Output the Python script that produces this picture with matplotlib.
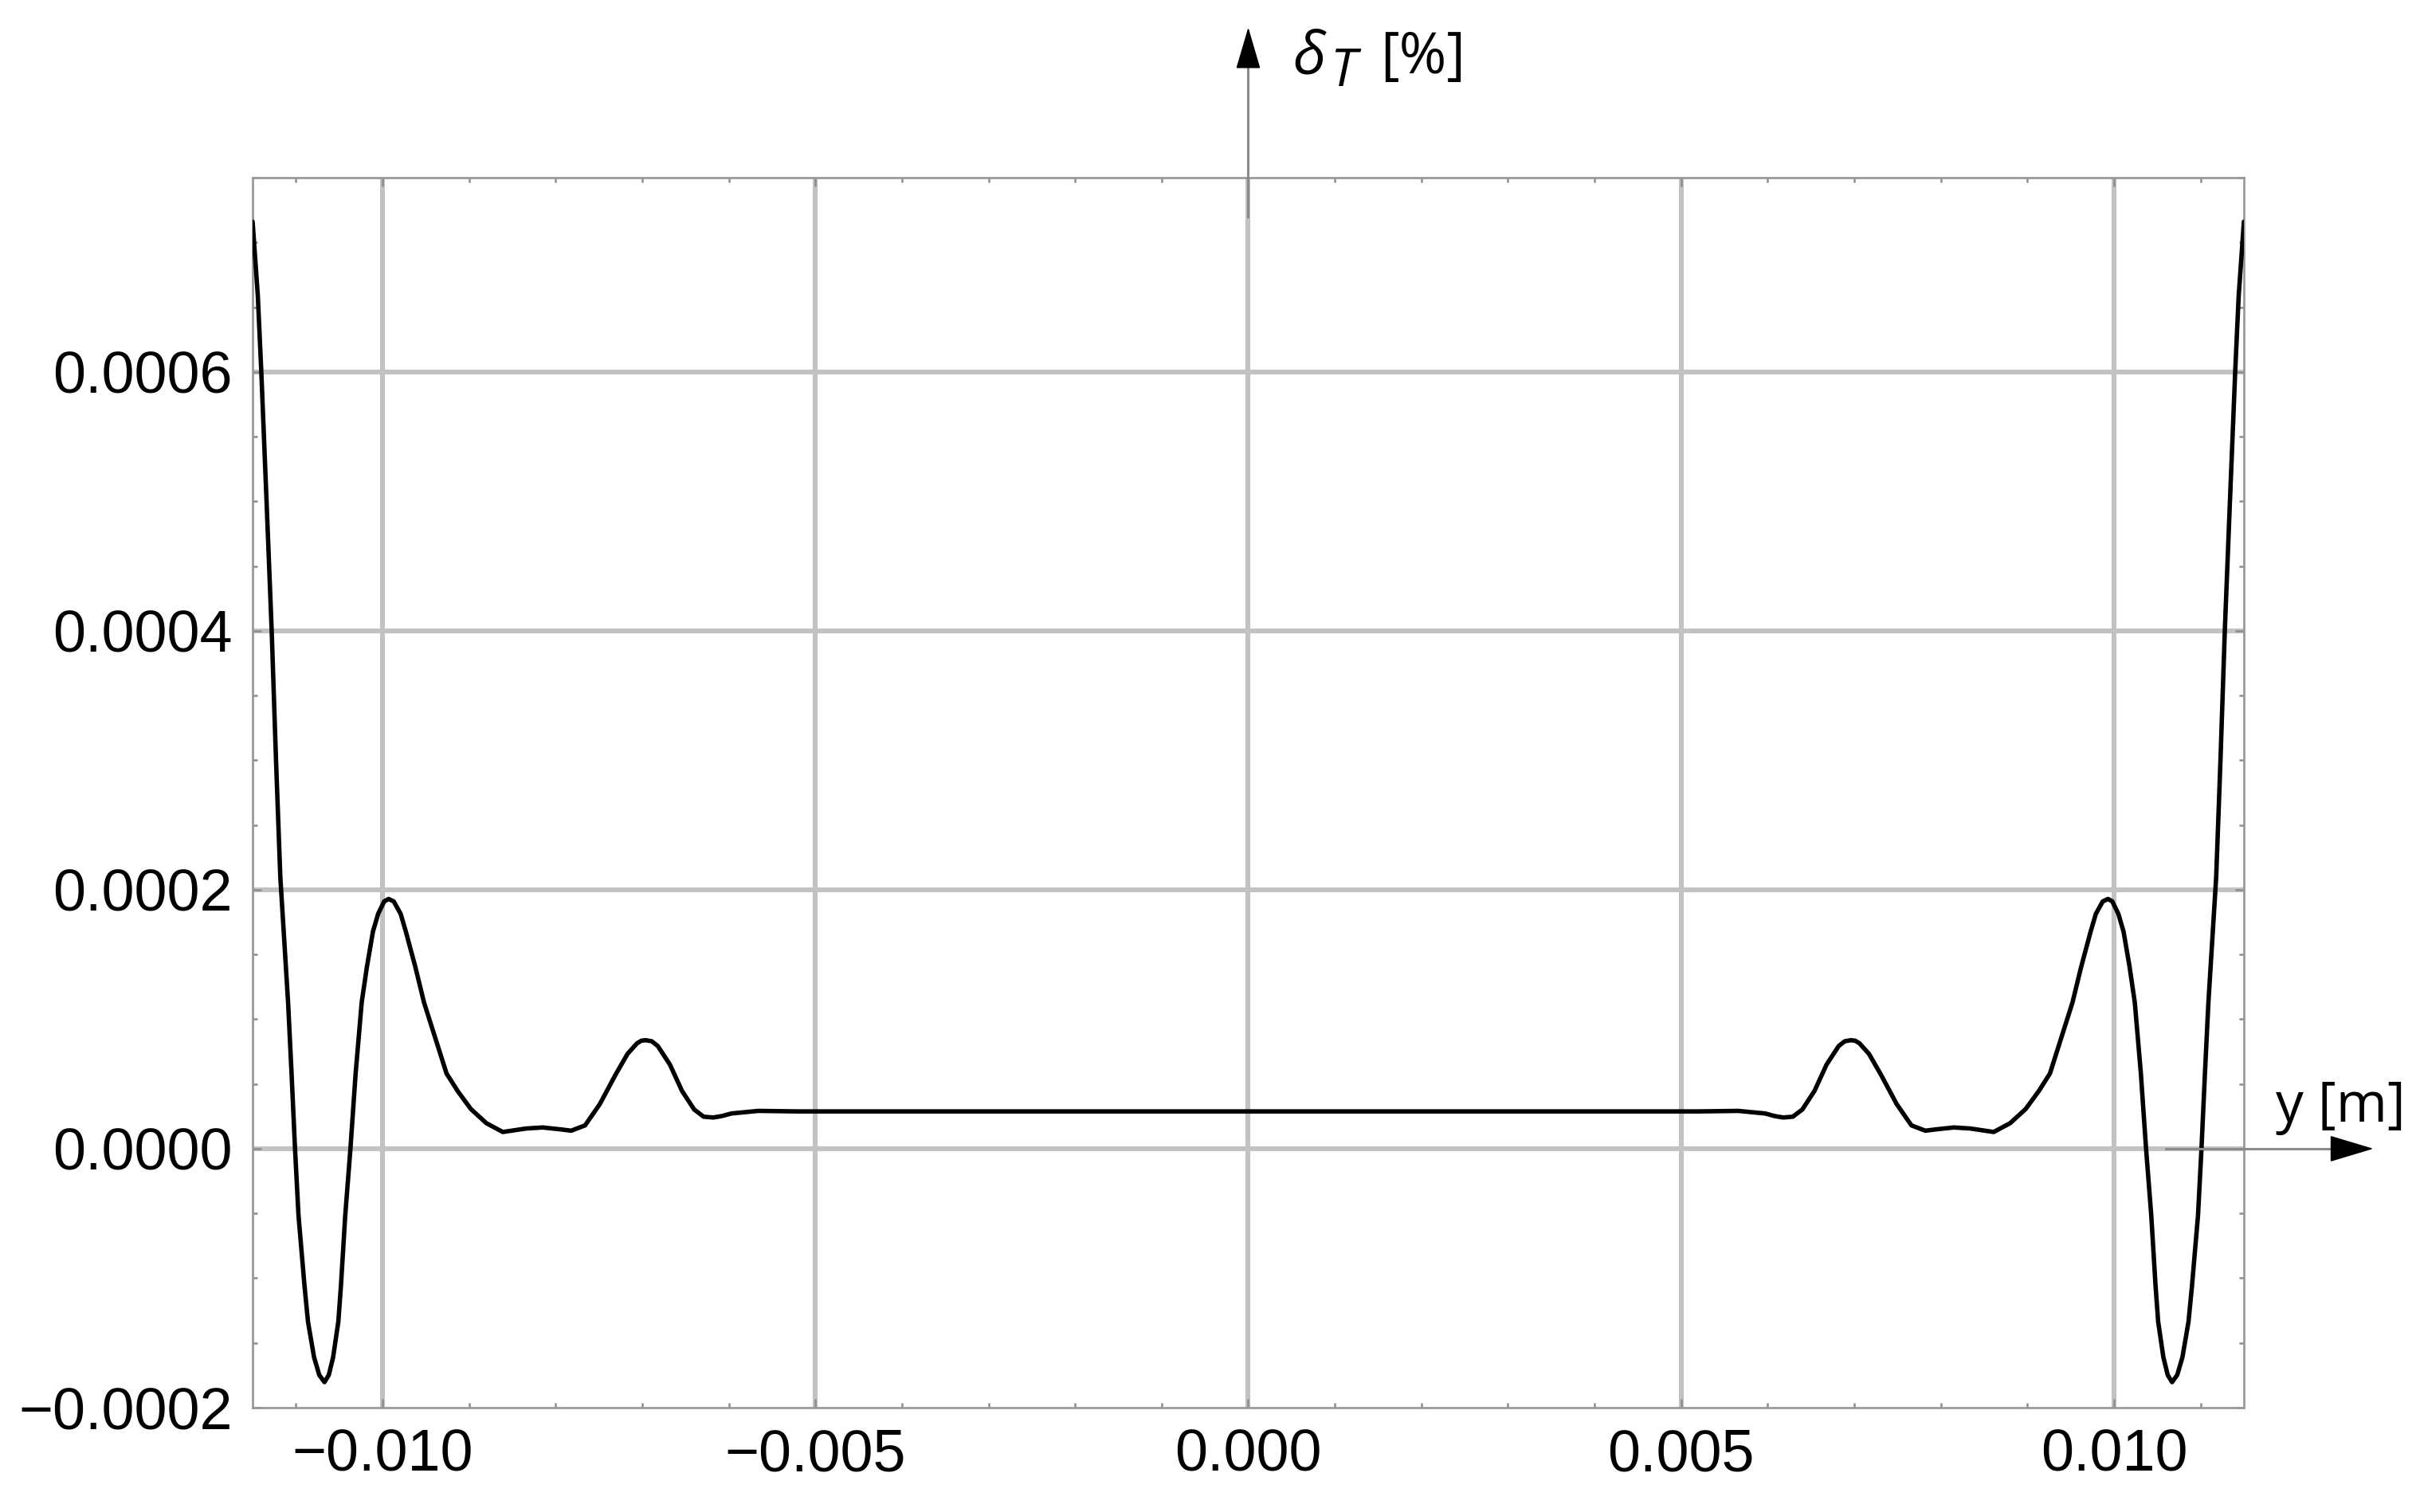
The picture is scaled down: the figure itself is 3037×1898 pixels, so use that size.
import matplotlib
matplotlib.use("Agg")
import matplotlib.pyplot as plt
import matplotlib.transforms as mtransforms
from matplotlib.ticker import MultipleLocator

# ---- data (y position [m], delta_T [%]) ----
y_pos = [
    -0.01150, -0.01144, -0.01140, -0.01134, -0.01128, -0.01123, -0.01118, -0.01109,
    -0.01105, -0.01101, -0.01097,
    -0.01090, -0.01086, -0.01079, -0.01073, -0.01067, -0.01062, -0.01057, -0.01051,
    -0.01048, -0.01043, -0.01037, -0.01031, -0.01024, -0.01018, -0.01011, -0.01005,
    -0.00998, -0.00993, -0.00987, -0.00979, -0.00973, -0.00962, -0.00952, -0.00939,
    -0.00926, -0.00913, -0.00898, -0.00880, -0.00861, -0.00834, -0.00815, -0.00794,
    -0.00782, -0.00766, -0.00749, -0.00731, -0.00717, -0.00706, -0.00701, -0.00696,
    -0.00689, -0.00682, -0.00668, -0.00654, -0.00640, -0.00629, -0.00618, -0.00608,
    -0.00597, -0.00566, -0.00520, -0.00250, 0.00000,
    0.00250, 0.00520, 0.00566, 0.00597, 0.00608, 0.00618, 0.00629, 0.00640,
    0.00654, 0.00668, 0.00682, 0.00689, 0.00696, 0.00701, 0.00706, 0.00717,
    0.00731, 0.00749, 0.00766, 0.00782, 0.00794, 0.00815, 0.00834, 0.00861,
    0.00880, 0.00898, 0.00913, 0.00926, 0.00939, 0.00952, 0.00962, 0.00973,
    0.00979, 0.00987, 0.00993, 0.00998, 0.01005, 0.01011, 0.01018, 0.01024,
    0.01031, 0.01037, 0.01043, 0.01048, 0.01051, 0.01057, 0.01062, 0.01067,
    0.01073, 0.01079, 0.01086, 0.01090,
    0.01097, 0.01101, 0.01105, 0.01109, 0.01118, 0.01123, 0.01128, 0.01134,
    0.01140, 0.01144, 0.01150,
]
delta_T = [
    7.16e-4, 6.59e-4, 6.01e-4, 5.02e-4, 4.01e-4, 3.01e-4, 2.10e-4, 1.129e-4,
    0.581e-4, 0.0, -0.515e-4,
    -1.063e-4, -1.337e-4, -1.611e-4, -1.748e-4, -1.803e-4, -1.748e-4, -1.611e-4, -1.337e-4,
    -1.063e-4, -0.515e-4, 0.0, 0.581e-4, 1.129e-4, 1.403e-4, 1.677e-4, 1.814e-4,
    1.910e-4, 1.929e-4, 1.910e-4, 1.814e-4, 1.677e-4, 1.403e-4, 1.129e-4, 0.855e-4,
    0.581e-4, 0.444e-4, 0.307e-4, 0.197e-4, 0.129e-4, 0.156e-4, 0.164e-4, 0.149e-4,
    0.139e-4, 0.180e-4, 0.344e-4, 0.569e-4, 0.732e-4, 0.814e-4, 0.834e-4, 0.838e-4,
    0.830e-4, 0.793e-4, 0.650e-4, 0.446e-4, 0.303e-4, 0.247e-4, 0.241e-4, 0.252e-4,
    0.272e-4, 0.292e-4, 0.288e-4, 0.288e-4, 0.288e-4,
    0.288e-4, 0.288e-4, 0.292e-4, 0.272e-4, 0.252e-4, 0.241e-4, 0.247e-4, 0.303e-4,
    0.446e-4, 0.650e-4, 0.793e-4, 0.830e-4, 0.838e-4, 0.834e-4, 0.814e-4, 0.732e-4,
    0.569e-4, 0.344e-4, 0.180e-4, 0.139e-4, 0.149e-4, 0.164e-4, 0.156e-4, 0.129e-4,
    0.197e-4, 0.307e-4, 0.444e-4, 0.581e-4, 0.855e-4, 1.129e-4, 1.403e-4, 1.677e-4,
    1.814e-4, 1.910e-4, 1.929e-4, 1.910e-4, 1.814e-4, 1.677e-4, 1.403e-4, 1.129e-4,
    0.581e-4, 0.0, -0.515e-4, -1.063e-4, -1.337e-4, -1.611e-4, -1.748e-4, -1.803e-4,
    -1.748e-4, -1.611e-4, -1.337e-4, -1.063e-4,
    -0.515e-4, 0.0, 0.581e-4, 1.129e-4, 2.10e-4, 3.01e-4, 4.01e-4, 5.02e-4,
    6.01e-4, 6.59e-4, 7.16e-4,
]

x_ticks = [-0.010, -0.005, 0.0, 0.005, 0.010]
x_tick_labels = ['\u22120.010', '\u22120.005', '0.000', '0.005', '0.010']
y_ticks = [-0.0002, 0.0, 0.0002, 0.0004, 0.0006]
y_tick_labels = ['\u22120.0002', '0.0000', '0.0002', '0.0004', '0.0006']
x_label = 'y [m]'
y_label_symbol = '\u03b4'
y_label_sub = 'T'
y_label_unit = '[%]'

# ---- figure ----
fig = plt.figure(figsize=(3037 / 200, 1898 / 200), dpi=200)
ax = fig.add_axes([0.10438, 0.06902, 0.82285, 0.81349])

ax.set_xlim(-0.0115, 0.0115)
ax.set_ylim(-0.0002, 0.00075)

grid_c = '#c2c2c2'
for gx in x_ticks:
    ax.axvline(gx, color=grid_c, lw=2.2, zorder=1)
for gy in y_ticks[1:]:
    ax.axhline(gy, color=grid_c, lw=2.2, zorder=1)

ax.plot(y_pos, delta_T, color='black', lw=2.0, solid_joinstyle='round',
        solid_capstyle='round', zorder=4)

ax.set_xticks(x_ticks)
ax.set_xticklabels(x_tick_labels)
ax.set_yticks(y_ticks)
ax.set_yticklabels(y_tick_labels)
ax.xaxis.set_minor_locator(MultipleLocator(0.001))
ax.yaxis.set_minor_locator(MultipleLocator(0.00005))
ax.tick_params(which='both', direction='in', top=True, right=True,
               color='#8c8c8c', labelsize=26.5, pad=9, width=0.9)
ax.tick_params(which='major', length=4)
ax.tick_params(which='minor', length=2)
for lbl in ax.get_xticklabels() + ax.get_yticklabels():
    lbl.set_fontfamily('Liberation Sans')

for sp in ax.spines.values():
    sp.set_color('#999999')
    sp.set_linewidth(1.0)

# ---- axes with arrows (Mathematica style) ----
axis_c = '#8a8a8a'
x_tip, y_tip = 0.012996, 0.000866
ax.plot([0.0106, x_tip - 0.0003], [0, 0], color=axis_c, lw=1.1, clip_on=False, zorder=5)
ax.plot([0, 0], [0.00072, y_tip - 0.00002], color=axis_c, lw=1.1, clip_on=False, zorder=5)
ax.annotate('', xy=(x_tip, 0), xytext=(x_tip - 0.00046, 0),
            arrowprops=dict(arrowstyle='-|>,head_length=18,head_width=5.4', mutation_scale=1,
                            color='black', lw=0.6, shrinkA=0, shrinkB=0),
            annotation_clip=False, zorder=6)
ax.annotate('', xy=(0, y_tip), xytext=(0, y_tip - 0.0000295),
            arrowprops=dict(arrowstyle='-|>,head_length=17,head_width=5.0', mutation_scale=1,
                            color='black', lw=0.6, shrinkA=0, shrinkB=0),
            annotation_clip=False, zorder=6)

tr_y = mtransforms.blended_transform_factory(ax.transData, ax.transAxes)
tr_x = mtransforms.blended_transform_factory(ax.transAxes, ax.transData)
ax.text(0.000515, 1.0848, y_label_symbol, transform=tr_y, fontsize=27, family='Open Sans',
        style='italic', ha='left', va='baseline')
ax.text(0.000947, 1.0745, y_label_sub, transform=tr_y, fontsize=23.5, family='Open Sans',
        style='italic', ha='left', va='baseline')
ax.text(0.001526, 1.0848, y_label_unit, transform=tr_y, fontsize=26, family='Open Sans',
        ha='left', va='baseline')
ax.text(1.016, 0.000021, x_label, transform=tr_x, fontsize=25, family='Open Sans',
        ha='left', va='baseline')

fig.savefig('out.png', dpi=200, facecolor='white')
